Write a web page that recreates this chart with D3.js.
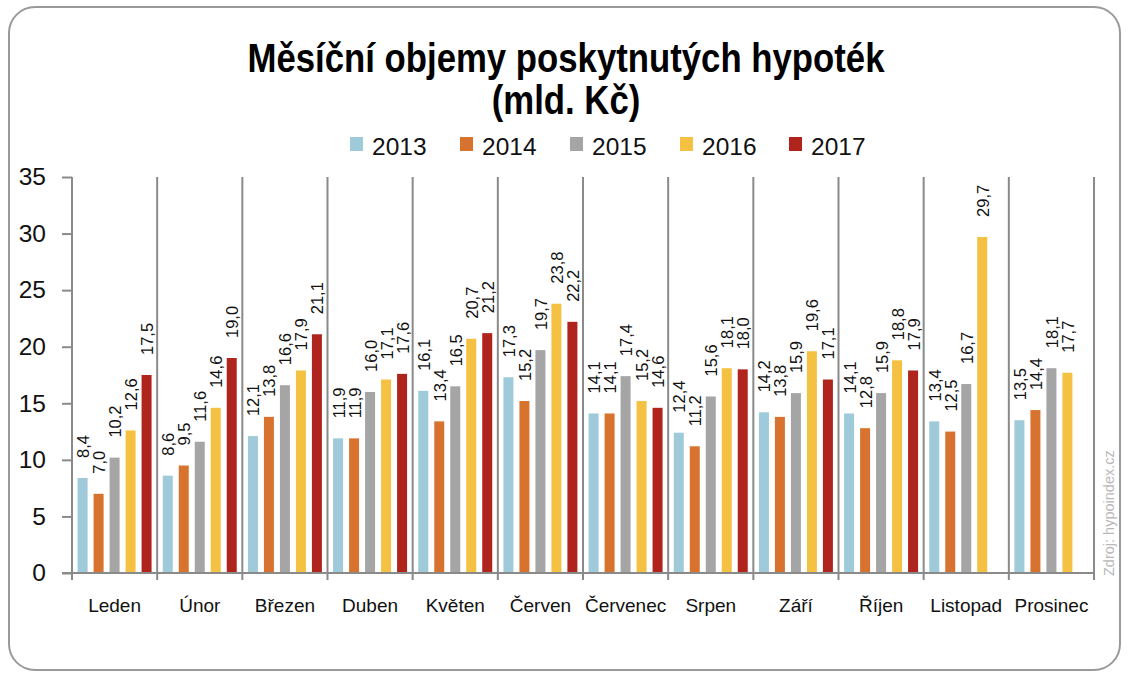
<!DOCTYPE html>
<html>
<head>
<meta charset="utf-8">
<script src="https://cdn.jsdelivr.net/npm/d3@7"></script>
<style>
  html, body { margin: 0; padding: 0; background: #fff; }
  svg { display: block; }
</style>
</head>
<body>
<svg id="chart" width="1130" height="678"></svg>
<script>
const months = ["Leden","Únor","Březen","Duben","Květen","Červen","Červenec","Srpen","Září","Říjen","Listopad","Prosinec"];
const years = ["2013","2014","2015","2016","2017"];
const v2013 = [8.4, 8.6, 12.1, 11.9, 16.1, 17.3, 14.1, 12.4, 14.2, 14.1, 13.4, 13.5];
const v2014 = [7.0, 9.5, 13.8, 11.9, 13.4, 15.2, 14.1, 11.2, 13.8, 12.8, 12.5, 14.4];
const v2015 = [10.2, 11.6, 16.6, 16.0, 16.5, 19.7, 17.4, 15.6, 15.9, 15.9, 16.7, 18.1];
const v2016 = [12.6, 14.6, 17.9, 17.1, 20.7, 23.8, 15.2, 18.1, 19.6, 18.8, 29.7, 17.7];
const v2017 = [17.5, 19.0, 21.1, 17.6, 21.2, 22.2, 14.6, 18.0, 17.1, 17.9, null, null];
const yTicks = [0, 5, 10, 15, 20, 25, 30, 35];
const colors = ["#9ECAD9", "#D7732F", "#A5A5A5", "#F4C143", "#AF241D"];
const titleLines = ["Měsíční objemy poskytnutých hypoték", "(mld. Kč)"];
const sourceText = "Zdroj: hypoindex.cz";

const seriesValues = [v2013, v2014, v2015, v2016, v2017];

const svg = d3.select("#chart");
const fmt = v => d3.format(".1f")(v).replace(".", ",");

// outer frame
svg.append("rect")
  .attr("x", 9).attr("y", 7).attr("width", 1111).attr("height", 663)
  .attr("rx", 26).attr("ry", 26)
  .attr("fill", "#fff").attr("stroke", "#9a9a9a").attr("stroke-width", 2);

const pLeft = 72, pRight = 1094, pTop = 177, pBottom = 573;

const x0 = d3.scaleBand().domain(months).range([pLeft, pRight]).padding(0);
const x1 = d3.scaleBand().domain(years).range([0, x0.bandwidth()])
  .paddingInner(0.375).paddingOuter(0.35);
const y = d3.scaleLinear().domain([0, 35]).range([pBottom, pTop]);

// bars
const g = svg.append("g");
years.forEach((yr, si) => {
  const data = months.map((m, i) => ({ m, v: seriesValues[si][i] })).filter(d => d.v != null);
  g.selectAll(null).data(data).enter().append("rect")
    .attr("x", d => x0(d.m) + x1(yr))
    .attr("y", d => y(d.v))
    .attr("width", x1.bandwidth())
    .attr("height", d => y(0) - y(d.v))
    .attr("fill", colors[si]);
  g.selectAll(null).data(data).enter().append("text")
    .attr("transform", d => `translate(${x0(d.m) + x1(yr) + x1.bandwidth() / 2 + 0.5},${y(d.v) - 20}) rotate(-90)`)
    .attr("text-anchor", "start")
    .attr("dominant-baseline", "central")
    .attr("font-family", "'Liberation Sans', Arial, sans-serif")
    .attr("font-size", 16.5)
    .attr("fill", "#111")
    .text(d => fmt(d.v));
});

const gridColor = "#8a8a8a";

// category dividers (vertical gridlines)
const dividers = months.map(m => x0(m)).concat([pRight]);
svg.append("g").selectAll("line").data(dividers).enter().append("line")
  .attr("x1", d => d).attr("x2", d => d)
  .attr("y1", pTop).attr("y2", pBottom + 7)
  .attr("stroke", gridColor).attr("stroke-width", 2);

// y axis
const yAxis = d3.axisLeft(y).tickValues(yTicks).tickSize(10).tickPadding(16)
  .tickFormat(d3.format("d"));
const ya = svg.append("g").attr("transform", `translate(${pLeft},0)`).call(yAxis);
ya.select(".domain").attr("stroke", gridColor).attr("stroke-width", 2)
  .attr("d", `M0,${pTop}V${pBottom}`);
ya.selectAll(".tick line").attr("stroke", gridColor).attr("stroke-width", 2);
ya.selectAll(".tick text")
  .attr("font-family", "'Liberation Sans', Arial, sans-serif")
  .attr("font-size", 24.5).attr("fill", "#111");

// x axis
const xa = svg.append("g").attr("transform", `translate(0,${pBottom})`)
  .call(d3.axisBottom(x0).tickSize(0).tickPadding(26));
xa.select(".domain").attr("stroke", gridColor).attr("stroke-width", 2)
  .attr("d", `M${pLeft - 10},0H${pRight}`);
xa.selectAll(".tick text")
  .attr("font-family", "'Liberation Sans', Arial, sans-serif")
  .attr("font-size", 19).attr("fill", "#111");

// title (tall, condensed like the reference)
const titleFs = 40;
const t1 = svg.append("text")
  .attr("x", 566).attr("y", 72)
  .attr("text-anchor", "middle")
  .attr("font-family", "'Liberation Sans', Arial, sans-serif")
  .attr("font-weight", "bold").attr("font-size", titleFs).attr("fill", "#000")
  .text(titleLines[0]);
const w1 = t1.node().getComputedTextLength();
const squeeze = 637 / w1;
t1.attr("textLength", 637).attr("lengthAdjust", "spacingAndGlyphs");
const t2 = svg.append("text")
  .attr("x", 566).attr("y", 114)
  .attr("text-anchor", "middle")
  .attr("font-family", "'Liberation Sans', Arial, sans-serif")
  .attr("font-weight", "bold").attr("font-size", titleFs).attr("fill", "#000")
  .text(titleLines[1]);
const w2 = t2.node().getComputedTextLength();
t2.attr("textLength", w2 * squeeze).attr("lengthAdjust", "spacingAndGlyphs");

// legend
const legendX = [350, 460, 570, 680, 789];
const lg = svg.append("g");
years.forEach((yr, i) => {
  lg.append("rect").attr("x", legendX[i]).attr("y", 137).attr("width", 13).attr("height", 14)
    .attr("fill", colors[i]);
  lg.append("text").attr("x", legendX[i] + 22).attr("y", 155)
    .attr("font-family", "'Liberation Sans', Arial, sans-serif")
    .attr("font-size", 24.5).attr("fill", "#111").text(yr);
});

// source
svg.append("text")
  .attr("transform", "translate(1114,576) rotate(-90)")
  .attr("text-anchor", "start")
  .attr("font-family", "'Liberation Sans', Arial, sans-serif")
  .attr("font-size", 14.5).attr("fill", "#b8b8b8")
  .text(sourceText);
</script>
</body>
</html>
